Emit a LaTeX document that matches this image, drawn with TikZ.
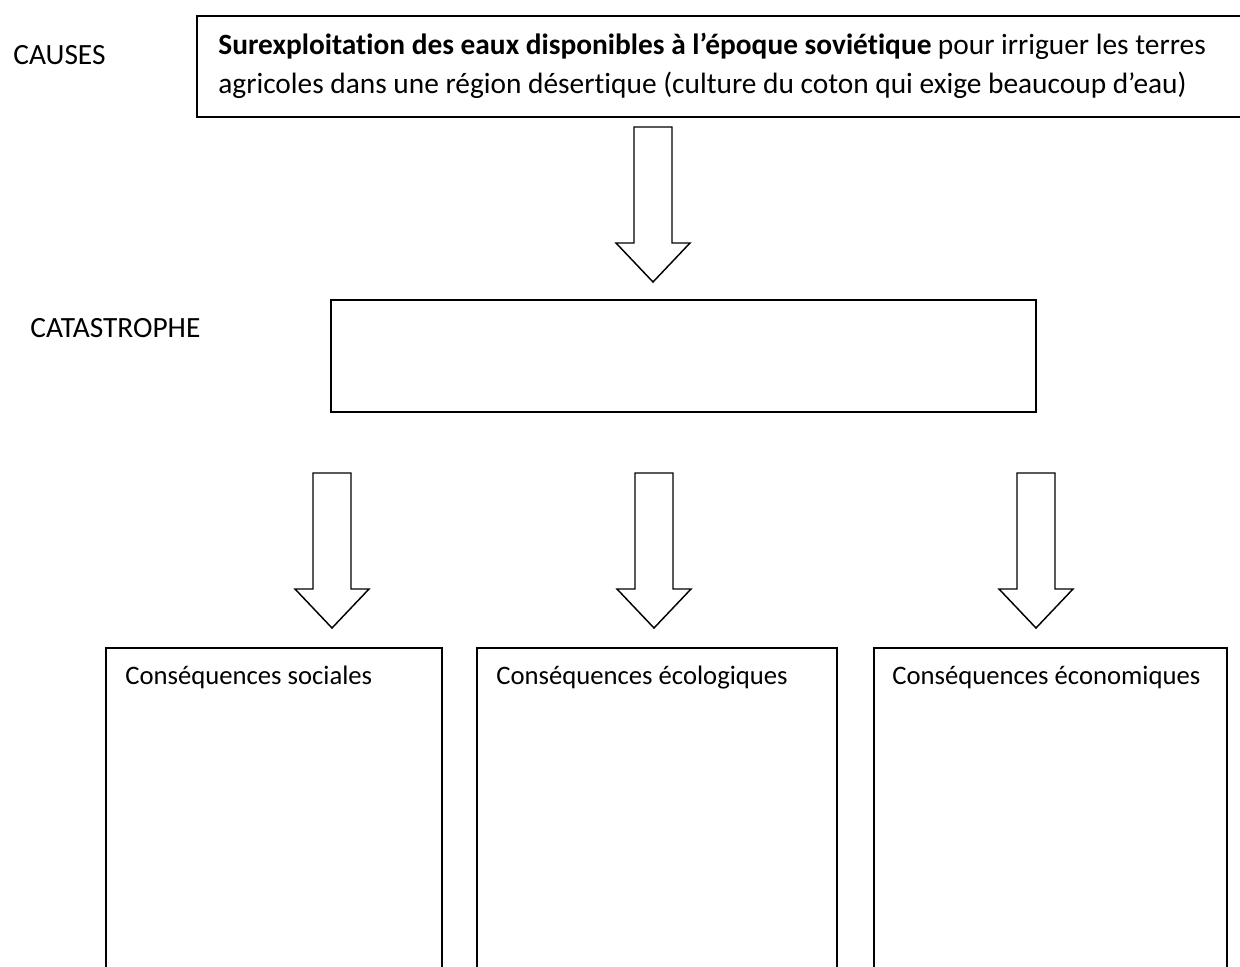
\documentclass[tikz,border=0pt]{standalone}
\usepackage{fontspec}
\setmainfont{Carlito}[Ligatures=NoCommon]
\usepackage{tikz}
\usetikzlibrary{positioning}

\begin{document}
\begin{tikzpicture}[
			x=0.48pt, y=-0.48pt,
			font=\fontsize{14.1}{18.7}\selectfont,
			box/.style={draw, line width=0.9pt, inner sep=0pt, anchor=north west},
			label/.style={anchor=base west, inner sep=0pt},
			small/.style={label, font=\fontsize{12.8}{15}\selectfont},
			bigarrow/.pic={\draw[line width=0.7pt, line join=miter] (-19,0) -- (19,0) -- (19,116) -- (37,116) -- (0,155) -- (-37,116) -- (-19,116) -- cycle;}]
			
			\clip (0,0) rectangle (1240,967);
			
			\node[label] (causes) at (13,65) {CAUSES};
			\node[box, minimum width=1060*0.48pt, minimum height=101*0.48pt] (cause) at (196,15) {};
			\node[label] (causeA) at (218,55) {\textbf{Surexploitation des eaux disponibles à l’époque soviétique} pour irriguer les terres};
			\node[label] (causeB) at (218,94) {agricoles dans une région désertique (culture du coton qui exige beaucoup d’eau)};
			
			\pic (arrowA) at (653,127) {bigarrow};
			
			\node[label] (catastrophe) at (30,337) {CATASTROPHE};
			\node[box, minimum width=705*0.48pt, minimum height=112*0.48pt] (event) at (330,299) {};
			
			\pic (arrowB) at (332,473) {bigarrow};
			\pic (arrowC) at (654,473) {bigarrow};
			\pic (arrowD) at (1036,473) {bigarrow};
			
			\node[box, minimum width=336*0.48pt, minimum height=350*0.48pt] (social) at (105,647) {};
			\node[box, minimum width=360*0.48pt, minimum height=350*0.48pt] (ecology) at (476,647) {};
			\node[box, minimum width=353*0.48pt, minimum height=350*0.48pt] (economy) at (873,647) {};
			\node[small] (socialtext) at (125,684) {Conséquences sociales};
			\node[small] (ecologytext) at (496,684) {Conséquences écologiques};
			\node[small] (economytext) at (892,684) {Conséquences économiques};
		\end{tikzpicture}
\end{document}
